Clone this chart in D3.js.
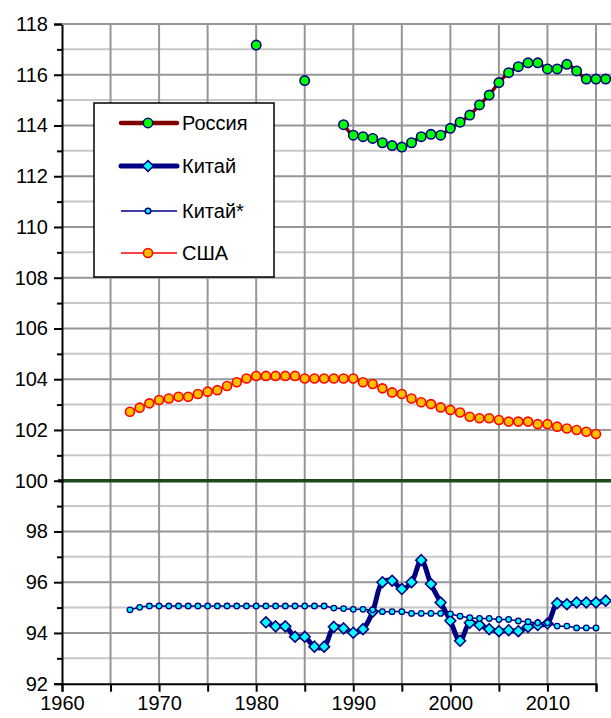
<!DOCTYPE html>
<html>
<head>
<meta charset="utf-8">
<script src="https://cdn.jsdelivr.net/npm/d3@7"></script>
<style>
  body { margin: 0; background: #fff; }
  svg text { font-family: "Liberation Sans", Arial, sans-serif; fill: #000; }
</style>
</head>
<body>
<script>
// years and values
var russiaYears = [1980, 1985, 1989, 1990, 1991, 1992, 1993, 1994, 1995, 1996, 1997, 1998, 1999, 2000, 2001, 2002, 2003, 2004, 2005, 2006, 2007, 2008, 2009, 2010, 2011, 2012, 2013, 2014, 2015, 2016];
var russiaVals = [117.17, 115.77, 114.03, 113.62, 113.56, 113.49, 113.32, 113.21, 113.15, 113.32, 113.56, 113.65, 113.62, 113.89, 114.13, 114.41, 114.81, 115.20, 115.69, 116.08, 116.32, 116.47, 116.47, 116.23, 116.23, 116.41, 116.15, 115.83, 115.83, 115.83];

var chinaYears = [1981, 1982, 1983, 1984, 1985, 1986, 1987, 1988, 1989, 1990, 1991, 1992, 1993, 1994, 1995, 1996, 1997, 1998, 1999, 2000, 2001, 2002, 2003, 2004, 2005, 2006, 2007, 2008, 2009, 2010, 2011, 2012, 2013, 2014, 2015, 2016];
var chinaVals = [94.42, 94.26, 94.26, 93.85, 93.85, 93.46, 93.46, 94.24, 94.18, 94.01, 94.15, 94.84, 96.00, 96.06, 95.73, 96.00, 96.87, 95.93, 95.20, 94.48, 93.69, 94.40, 94.31, 94.15, 94.07, 94.11, 94.07, 94.24, 94.31, 94.37, 95.17, 95.13, 95.20, 95.20, 95.20, 95.27];

// Китай* and США share the same years
var longYears = [1967, 1968, 1969, 1970, 1971, 1972, 1973, 1974, 1975, 1976, 1977, 1978, 1979, 1980, 1981, 1982, 1983, 1984, 1985, 1986, 1987, 1988, 1989, 1990, 1991, 1992, 1993, 1994, 1995, 1996, 1997, 1998, 1999, 2000, 2001, 2002, 2003, 2004, 2005, 2006, 2007, 2008, 2009, 2010, 2011, 2012, 2013, 2014, 2015];
var chinaStarVals = [94.91, 95.01, 95.06, 95.06, 95.06, 95.06, 95.06, 95.06, 95.06, 95.06, 95.06, 95.06, 95.06, 95.06, 95.06, 95.06, 95.06, 95.06, 95.06, 95.06, 95.06, 94.98, 94.96, 94.93, 94.93, 94.91, 94.84, 94.84, 94.84, 94.77, 94.77, 94.77, 94.77, 94.75, 94.66, 94.60, 94.57, 94.57, 94.53, 94.53, 94.47, 94.44, 94.40, 94.40, 94.27, 94.27, 94.20, 94.20, 94.20];
var usaVals = [102.72, 102.88, 103.05, 103.18, 103.24, 103.31, 103.31, 103.42, 103.51, 103.57, 103.73, 103.88, 104.03, 104.13, 104.13, 104.13, 104.13, 104.13, 104.03, 104.03, 104.03, 104.03, 104.03, 104.03, 103.88, 103.81, 103.64, 103.48, 103.42, 103.24, 103.09, 103.02, 102.89, 102.79, 102.69, 102.52, 102.46, 102.46, 102.39, 102.33, 102.33, 102.33, 102.23, 102.23, 102.13, 102.06, 102.00, 101.93, 101.84];

var yTickLabels = [92, 94, 96, 98, 100, 102, 104, 106, 108, 110, 112, 114, 116, 118];
var yMinorTicks = [93, 95, 97, 99, 101, 103, 105, 107, 109, 111, 113, 115, 117];
var xTicks = [1960, 1965, 1970, 1975, 1980, 1985, 1990, 1995, 2000, 2005, 2010, 2015];
var xTickLabels = [1960, 1970, 1980, 1990, 2000, 2010];

var width = 611, height = 718;
var plotLeft = 62, plotTop = 24, plotBottom = 683.7, plotRight = 615;

var svg = d3.select('body').append('svg').attr('width', width).attr('height', height);

var x = d3.scaleLinear().domain([1960, 2015]).range([plotLeft, 596]);
var y = d3.scaleLinear().domain([92, 118]).range([plotBottom, plotTop]);

function zip(xs, vs) {
  return xs.map(function (d, i) { return { year: d, v: vs[i] }; });
}
var russia = zip(russiaYears, russiaVals);
var china = zip(chinaYears, chinaVals);
var chinaStar = zip(longYears, chinaStarVals);
var usa = zip(longYears, usaVals);

// grid
var grid = svg.append('g');
grid.selectAll('line.hminor')
  .data(yMinorTicks).enter().append('line')
  .attr('x1', plotLeft).attr('x2', plotRight)
  .attr('y1', function (d) { return y(d); }).attr('y2', function (d) { return y(d); })
  .attr('stroke', '#c8c8c8').attr('stroke-width', 2);
grid.selectAll('line.hmajor')
  .data(yTickLabels.filter(function (d) { return d !== 92 && d !== 100; })).enter().append('line')
  .attr('x1', plotLeft).attr('x2', plotRight)
  .attr('y1', function (d) { return y(d); }).attr('y2', function (d) { return y(d); })
  .attr('stroke', '#969696').attr('stroke-width', 2);
grid.selectAll('line.v')
  .data(xTicks.slice(1)).enter().append('line')
  .attr('x1', function (d) { return x(d); }).attr('x2', function (d) { return x(d); })
  .attr('y1', plotTop).attr('y2', plotBottom)
  .attr('stroke', '#969696').attr('stroke-width', 2);

// 100 reference line
svg.append('line')
  .attr('x1', plotLeft - 4).attr('x2', plotRight)
  .attr('y1', y(100)).attr('y2', y(100))
  .attr('stroke', '#1b4a1b').attr('stroke-width', 3.5);

// axes
var yAxis = svg.append('g')
  .attr('transform', 'translate(' + plotLeft + ',0)')
  .call(d3.axisLeft(y).tickValues(yTickLabels).tickSize(8).tickPadding(6).tickFormat(d3.format('d')));
svg.append('g')
  .attr('transform', 'translate(' + plotLeft + ',0)')
  .call(d3.axisLeft(y).tickValues(yMinorTicks).tickSize(5).tickFormat(''))
  .select('.domain').remove();
var xAxis = svg.append('g')
  .attr('transform', 'translate(0,' + plotBottom + ')')
  .call(d3.axisBottom(x).tickValues(xTicks).tickSize(8).tickPadding(4)
    .tickFormat(function (d) { return xTickLabels.indexOf(d) >= 0 ? d : ''; }));
[yAxis, xAxis].forEach(function (a) {
  a.selectAll('path.domain').attr('stroke', '#000').attr('stroke-width', 2);
  a.selectAll('text').attr('font-size', 20).attr('font-family', '"Liberation Sans", Arial, sans-serif');
});
svg.selectAll('.tick line').attr('stroke', '#000').attr('stroke-width', 2);
svg.append('line').attr('x1', plotLeft).attr('x2', plotRight).attr('y1', plotTop).attr('y2', plotTop)
  .attr('stroke', '#969696').attr('stroke-width', 2);

// lines
function segments(data) {
  var out = [], cur = [];
  data.forEach(function (d, i) {
    if (i > 0 && d.year - data[i - 1].year > 1) { out.push(cur); cur = []; }
    cur.push(d);
  });
  out.push(cur);
  return out;
}
var line = d3.line()
  .x(function (d) { return x(d.year); })
  .y(function (d) { return y(d.v); })
  .curve(d3.curveCatmullRom.alpha(0.5));

function drawLine(data, color, w) {
  svg.append('g').selectAll('path')
    .data(segments(data).filter(function (s) { return s.length > 1; }))
    .enter().append('path')
    .attr('d', line)
    .attr('fill', 'none').attr('stroke', color).attr('stroke-width', w)
    .attr('stroke-linejoin', 'round');
}
function drawCircles(data, r, fill, stroke, sw) {
  svg.append('g').selectAll('circle')
    .data(data).enter().append('circle')
    .attr('cx', function (d) { return x(d.year); })
    .attr('cy', function (d) { return y(d.v); })
    .attr('r', r).attr('fill', fill).attr('stroke', stroke).attr('stroke-width', sw);
}
var diamond = function (s) { return 'M0,' + -s + 'L' + s + ',0L0,' + s + 'L' + -s + ',0Z'; };
function drawDiamonds(data) {
  svg.append('g').selectAll('path')
    .data(data).enter().append('path')
    .attr('transform', function (d) { return 'translate(' + x(d.year) + ',' + y(d.v) + ')'; })
    .attr('d', diamond(5.4))
    .attr('fill', '#00ffff').attr('stroke', '#000080').attr('stroke-width', 1.6);
}

drawLine(russia, '#800000', 3.5);
drawCircles(russia, 4.7, '#00ff00', '#000080', 1.6);
drawLine(china, '#000080', 5);
drawDiamonds(china);
drawLine(chinaStar, '#000080', 1.5);
drawCircles(chinaStar, 2.8, '#00ffff', '#000080', 1.3);
drawLine(usa, '#ff0000', 1.5);
drawCircles(usa, 4.5, '#ffc000', '#ff0000', 1.6);

// legend
var legend = svg.append('g');
legend.append('rect')
  .attr('x', 94).attr('y', 103).attr('width', 180).attr('height', 174)
  .attr('fill', '#fff').attr('stroke', '#000').attr('stroke-width', 1.5);
var legendItems = [
  { name: 'Россия', y: 123, color: '#800000', w: 4.5, mark: 'circle', r: 4.7, fill: '#00ff00', stroke: '#000080' },
  { name: 'Китай', y: 166, color: '#000080', w: 5, mark: 'diamond', fill: '#00ffff', stroke: '#000080' },
  { name: 'Китай*', y: 211, color: '#000080', w: 1.5, mark: 'circle', r: 2.8, fill: '#00ffff', stroke: '#000080' },
  { name: 'США', y: 253, color: '#ff0000', w: 1.5, mark: 'circle', r: 4.5, fill: '#ffc000', stroke: '#ff0000' }
];
legendItems.forEach(function (it) {
  legend.append('line')
    .attr('x1', 121).attr('x2', 177).attr('y1', it.y).attr('y2', it.y)
    .attr('stroke', it.color).attr('stroke-width', it.w)
    .attr('stroke-linecap', it.w > 3 ? 'round' : 'butt');
  if (it.mark === 'circle') {
    legend.append('circle').attr('cx', 148).attr('cy', it.y).attr('r', it.r)
      .attr('fill', it.fill).attr('stroke', it.stroke).attr('stroke-width', 1.5);
  } else {
    legend.append('path').attr('transform', 'translate(148,' + it.y + ')')
      .attr('d', diamond(5.4)).attr('fill', it.fill).attr('stroke', it.stroke).attr('stroke-width', 1.5);
  }
  legend.append('text').attr('x', 182).attr('y', it.y + 7)
    .attr('font-size', 20).text(it.name);
});
</script>
</body>
</html>
